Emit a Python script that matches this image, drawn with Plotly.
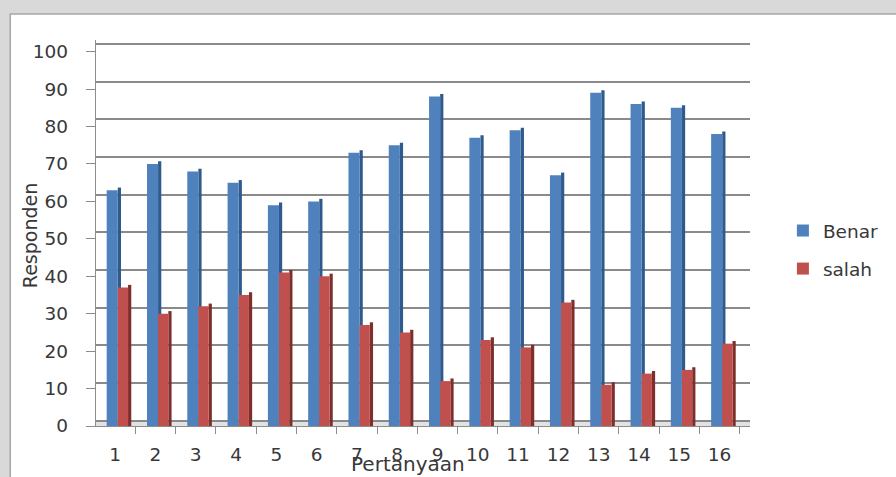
import plotly.graph_objects as go

# Survey results per question: number of respondents answering correctly / incorrectly
questions = [str(i) for i in range(1, 17)]
benar = [63, 70, 68, 65, 59, 60, 73, 75, 88, 77, 79, 67, 89, 86, 85, 78]
salah = [37, 30, 32, 35, 41, 40, 27, 25, 12, 23, 21, 33, 11, 14, 15, 22]
y_ticks = list(range(0, 101, 10))

BLUE, BLUE_SIDE = "#4F81BD", "#2E5A8E"
RED, RED_SIDE = "#C0504D", "#7E2F2C"
TEXT = "#383838"
FONT = "DejaVu Sans"

W, H = 896, 477
# plot area in pixels
PL, PR, PT, PB = 96, 752, 40, 426
PX_PER_UNIT = 3.743          # front value scale
BACK_PX_PER_UNIT = 3.767     # back-wall gridline scale
BACK_ZERO = 420.7            # pixel row of the back-wall zero line
CAT_W = 40.42                # pixel width of one category
FIRST_EDGE = 95.0            # pixel column of the first category boundary

x_lo = -0.5 + (PL - FIRST_EDGE) / CAT_W
x_hi = -0.5 + (PR - FIRST_EDGE) / CAT_W
y_hi = (PB - PT) / PX_PER_UNIT
y2_lo = -(PB - BACK_ZERO) / BACK_PX_PER_UNIT
y2_hi = (BACK_ZERO - PT) / BACK_PX_PER_UNIT


def px(x):
    """pixel column -> paper x"""
    return (x - PL) / (PR - PL)


def py(y):
    """pixel row -> paper y"""
    return (PB - y) / (PB - PT)


depth = 0.7  # extra height of the shaded side faces (3-D look)

fig = go.Figure()

# Side faces first so the front faces sit over them
fig.add_trace(go.Bar(x=questions, y=[v + depth for v in benar], offset=0.065, width=0.08,
                     marker=dict(color=BLUE_SIDE, line=dict(width=0)),
                     showlegend=False, hoverinfo="skip"))
fig.add_trace(go.Bar(x=questions, y=benar, offset=-0.21, width=0.275, name="Benar",
                     marker=dict(color=BLUE, line=dict(width=0)), legendgroup="b"))
fig.add_trace(go.Bar(x=questions, y=[v + depth for v in salah], offset=0.32, width=0.08,
                     marker=dict(color=RED_SIDE, line=dict(width=0)),
                     showlegend=False, hoverinfo="skip"))
fig.add_trace(go.Bar(x=questions, y=salah, offset=0.065, width=0.255, name="salah",
                     marker=dict(color=RED, line=dict(width=0)), legendgroup="s"))

# Invisible trace carrying the back-wall gridlines
fig.add_trace(go.Scatter(x=[questions[0]], y=[0], yaxis="y2", mode="markers",
                         marker=dict(opacity=0), showlegend=False, hoverinfo="skip"))

fig.update_layout(
    width=W, height=H,
    margin=dict(l=PL, r=W - PR, t=PT, b=H - PB),
    paper_bgcolor="#d9d9d9",
    plot_bgcolor="rgba(0,0,0,0)",
    barmode="overlay",
    font=dict(family=FONT, size=18.5, color=TEXT),
    xaxis=dict(
        type="category", range=[x_lo, x_hi], tickson="boundaries",
        ticks="outside", ticklen=7, tickcolor="#8c8c8c", tickwidth=1.3,
        showline=True, linecolor="#8c8c8c", linewidth=1.3, automargin=False,
        showgrid=False, tickfont=dict(size=18.5, color=TEXT), ticklabelstandoff=12,
    ),
    yaxis=dict(
        range=[0, y_hi], tickvals=y_ticks, ticks="outside", ticklen=9,
        tickcolor="#8c8c8c", tickwidth=1.3, showline=True, linecolor="#8c8c8c",
        linewidth=1.3, showgrid=False, zeroline=False, automargin=False,
        tickfont=dict(size=18.5, color=TEXT), ticklabelstandoff=14,
    ),
    yaxis2=dict(
        overlaying="y", range=[y2_lo, y2_hi], tickvals=y_ticks, showticklabels=False,
        showgrid=True, gridcolor="#8a8a8a", gridwidth=1.5, zeroline=False,
        showline=False, ticks="", automargin=False,
    ),
    legend=dict(
        x=px(785), y=py(212), xanchor="left", yanchor="top",
        bgcolor="rgba(0,0,0,0)",
        font=dict(size=18.5, color=TEXT), tracegroupgap=11, traceorder="grouped",
        itemwidth=30,
    ),
    shapes=[
        # white chart sheet with its border
        dict(type="rect", xref="paper", yref="paper", x0=px(10), x1=px(905),
             y0=py(485), y1=py(14), fillcolor="white",
             line=dict(color="#a6a6a6", width=1.5), layer="below"),
        # floor strip between the back and front base lines
        dict(type="rect", xref="x domain", yref="y2", x0=0, x1=1, y0=y2_lo, y1=0,
             fillcolor="#e2e2e2", line=dict(width=0), layer="below"),
    ],
    annotations=[
        dict(text="Responden", xref="paper", yref="paper", x=px(30), y=py(236),
             xanchor="center", yanchor="middle",
             textangle=-90, showarrow=False, font=dict(size=19, color=TEXT)),
        dict(text="Pertanyaan", xref="paper", yref="paper", x=px(409), y=py(464),
             xanchor="center", yanchor="middle",
             showarrow=False, font=dict(size=20, color=TEXT)),
    ],
)

fig.write_html("out.html")
